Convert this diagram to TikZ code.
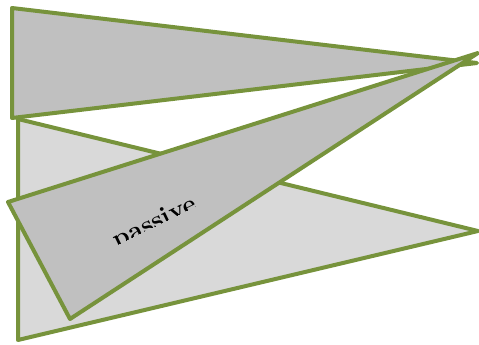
\documentclass[tikz,border=0pt]{standalone}
\usepackage{tikz}
\usetikzlibrary{positioning}
\definecolor{olivegreen}{HTML}{77933C}
\definecolor{midgray}{HTML}{C0C0C0}
\definecolor{lightgray}{HTML}{D9D9D9}

\begin{document}
\begin{tikzpicture}[x=1pt,y=-1pt,
    wedge/.style={draw=olivegreen, line width=4pt, line join=round}]
\useasboundingbox (0,0) rectangle (479,345);

\coordinate (lowtop) at (18,119);
\coordinate (lowbot) at (18,340);
\coordinate (lowtip) at (478,231);
\coordinate (uptop) at (12,8);
\coordinate (upbot) at (12,118);
\coordinate (uptip) at (477,63);
\coordinate (midtop) at (8,202);
\coordinate (midbot) at (70,319);
\coordinate (midtip) at (478,53);

\draw[wedge, fill=lightgray] (lowtop)--(lowtip)--(lowbot)--cycle;
\draw[wedge, fill=midgray] (uptop)--(uptip)--(upbot)--cycle;
\draw[wedge, fill=midgray] (midtop)--(midtip)--(midbot)--cycle;

\begin{scope}
\clip[rotate around={26:(158,229)}] (98,225) rectangle (218,195);
\node[rotate=26, anchor=base, font=\bfseries\fontsize{26}{30}\selectfont] (label) at (158,229) {passive};
\end{scope}
\end{tikzpicture}
\end{document}
